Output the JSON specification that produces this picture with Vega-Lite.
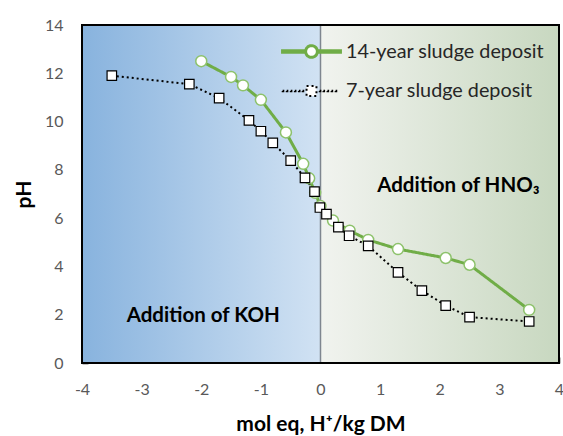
{
  "$schema": "https://vega.github.io/schema/vega-lite/v6.json",
  "width": 477,
  "height": 338,
  "autosize": {"type": "none"},
  "padding": {"left": 82, "top": 25, "right": 4, "bottom": 73},
  "background": "white",
  "config": {
    "view": {"stroke": null},
    "font": "Lato",
    "axis": {
      "labelFont": "Lato",
      "labelFontSize": 16,
      "labelColor": "#595959",
      "titleFont": "Lato",
      "titleFontSize": 21,
      "titleFontWeight": "bold",
      "titleColor": "#000000",
      "grid": false,
      "domain": false,
      "tickColor": "#000000",
      "tickWidth": 1.5,
      "tickSize": -6,
      "zindex": 1
    }
  },
  "data": {
    "values": [
      {"series": "14-year sludge deposit", "x": -2.0, "pH": 12.5},
      {"series": "14-year sludge deposit", "x": -1.5, "pH": 11.85},
      {"series": "14-year sludge deposit", "x": -1.3, "pH": 11.5},
      {"series": "14-year sludge deposit", "x": -1.0, "pH": 10.9},
      {"series": "14-year sludge deposit", "x": -0.58, "pH": 9.55},
      {"series": "14-year sludge deposit", "x": -0.29, "pH": 8.25},
      {"series": "14-year sludge deposit", "x": -0.19, "pH": 7.65},
      {"series": "14-year sludge deposit", "x": -0.09, "pH": 7.05},
      {"series": "14-year sludge deposit", "x": 0.0, "pH": 6.5},
      {"series": "14-year sludge deposit", "x": 0.21, "pH": 5.9},
      {"series": "14-year sludge deposit", "x": 0.49, "pH": 5.48},
      {"series": "14-year sludge deposit", "x": 0.8, "pH": 5.1},
      {"series": "14-year sludge deposit", "x": 1.3, "pH": 4.72},
      {"series": "14-year sludge deposit", "x": 2.1, "pH": 4.35},
      {"series": "14-year sludge deposit", "x": 2.5, "pH": 4.07},
      {"series": "14-year sludge deposit", "x": 3.5, "pH": 2.2},
      {"series": "7-year sludge deposit", "x": -3.5, "pH": 11.9},
      {"series": "7-year sludge deposit", "x": -2.2, "pH": 11.55},
      {"series": "7-year sludge deposit", "x": -1.7, "pH": 10.97},
      {"series": "7-year sludge deposit", "x": -1.2, "pH": 10.05},
      {"series": "7-year sludge deposit", "x": -1.0, "pH": 9.6},
      {"series": "7-year sludge deposit", "x": -0.8, "pH": 9.12},
      {"series": "7-year sludge deposit", "x": -0.5, "pH": 8.38},
      {"series": "7-year sludge deposit", "x": -0.26, "pH": 7.67},
      {"series": "7-year sludge deposit", "x": -0.1, "pH": 7.1},
      {"series": "7-year sludge deposit", "x": -0.01, "pH": 6.44},
      {"series": "7-year sludge deposit", "x": 0.1, "pH": 6.17},
      {"series": "7-year sludge deposit", "x": 0.3, "pH": 5.63},
      {"series": "7-year sludge deposit", "x": 0.48, "pH": 5.27},
      {"series": "7-year sludge deposit", "x": 0.8, "pH": 4.85},
      {"series": "7-year sludge deposit", "x": 1.3, "pH": 3.75},
      {"series": "7-year sludge deposit", "x": 1.7, "pH": 3.0},
      {"series": "7-year sludge deposit", "x": 2.1, "pH": 2.38},
      {"series": "7-year sludge deposit", "x": 2.5, "pH": 1.9},
      {"series": "7-year sludge deposit", "x": 3.5, "pH": 1.72}
    ]
  },
  "encoding": {
    "x": {
      "field": "x", "type": "quantitative",
      "scale": {"domain": [-4, 4], "nice": false, "zero": false},
      "axis": {"title": "mol eq, H⁺/kg DM", "values": [-4, -3, -2, -1, 0, 1, 2, 3, 4], "labelExpr": "'' + datum.value", "labelPadding": 24, "titlePadding": 16, "labelFlush": false}
    },
    "y": {
      "field": "pH", "type": "quantitative",
      "scale": {"domain": [0, 14], "nice": false},
      "axis": {"title": "pH", "values": [0, 2, 4, 6, 8, 10, 12, 14], "labelPadding": 25, "titlePadding": 10, "labelFlush": false}
    }
  },
  "layer": [
    {
      "transform": [{"filter": "datum.x === 3.5 && datum.pH === 1.72"}],
      "mark": {"type": "rect", "fill": {"gradient": "linear", "x1": 0, "x2": 1, "y1": 0, "y2": 0, "stops": [{"offset": 0, "color": "#88b3de"}, {"offset": 1, "color": "#d1e2f3"}]}},
      "encoding": {"x": {"datum": -4}, "x2": {"datum": 0}, "y": {"datum": 0}, "y2": {"datum": 14}}
    },
    {
      "transform": [{"filter": "datum.x === 3.5 && datum.pH === 1.72"}],
      "mark": {"type": "rect", "fill": {"gradient": "linear", "x1": 0, "x2": 1, "y1": 0, "y2": 0, "stops": [{"offset": 0, "color": "#f1f3ef"}, {"offset": 1, "color": "#c8d8c0"}]}},
      "encoding": {"x": {"datum": 0}, "x2": {"datum": 4}, "y": {"datum": 0}, "y2": {"datum": 14}}
    },
    {
      "transform": [{"filter": "datum.x === 3.5 && datum.pH === 1.72"}],
      "mark": {"type": "rule", "color": "#7f8690", "strokeWidth": 1.5},
      "encoding": {"x": {"datum": 0}, "y": {"datum": 0}, "y2": {"datum": 14}}
    },
    {
      "transform": [{"filter": "datum.x === 3.5 && datum.pH === 1.72"}],
      "mark": {"type": "rect", "fill": null, "stroke": "#000000", "strokeWidth": 2},
      "encoding": {"x": {"datum": -4}, "x2": {"datum": 4}, "y": {"datum": 0}, "y2": {"datum": 14}}
    },
    {
      "transform": [{"filter": "datum.x === 3.5 && datum.pH === 1.72"}],
      "mark": {"type": "text", "font": "Lato", "fontSize": 20.5, "fontWeight": "bold", "align": "left", "baseline": "middle", "color": "#000000"},
      "encoding": {"x": {"datum": -3.25}, "y": {"datum": 1.95}, "text": {"value": "Addition of KOH"}}
    },
    {
      "transform": [{"filter": "datum.x === 3.5 && datum.pH === 1.72"}],
      "mark": {"type": "text", "font": "Lato", "fontSize": 20.5, "fontWeight": "bold", "align": "left", "baseline": "middle", "color": "#000000"},
      "encoding": {"x": {"datum": 0.95}, "y": {"datum": 7.33}, "text": {"value": "Addition of HNO₃"}}
    },
    {
      "mark": {"type": "line", "strokeCap": "butt"},
      "encoding": {
        "stroke": {
          "field": "series", "type": "nominal",
          "scale": {"domain": ["14-year sludge deposit", "7-year sludge deposit"], "range": ["#70ad47", "#000000"]},
          "legend": {
            "title": null,
            "orient": "none",
            "legendX": 213,
            "legendY": 10,
            "padding": 0,
            "zindex": 2,
            "symbolSize": 900,
            "symbolStrokeWidth": 1.5,
            "labelFont": "Lato",
            "labelFontSize": 19.8,
            "labelLimit": 0,
            "labelColor": "#262626",
            "labelOffset": 18,
            "rowPadding": 11,
            "encode": {
              "symbols": {
                "update": {
                  "shape": {"signal": "datum.value === '14-year sludge deposit' ? 'M-1.93,-0.05L-0.39,-0.05L-0.39,0.05L-1.93,0.05Z M0.39,-0.05L1.93,-0.05L1.93,0.05L0.39,0.05Z M0.39,0A0.39,0.39 0 1,1 -0.39,0A0.39,0.39 0 1,1 0.39,0Z' : 'M-1.92,-0.02L-1.88,-0.02L-1.88,0.02L-1.92,0.02Z M-1.65,-0.02L-1.61,-0.02L-1.61,0.02L-1.65,0.02Z M-1.38,-0.02L-1.34,-0.02L-1.34,0.02L-1.38,0.02Z M-1.11,-0.02L-1.07,-0.02L-1.07,0.02L-1.11,0.02Z M-0.84,-0.02L-0.8,-0.02L-0.8,0.02L-0.84,0.02Z M-0.59,-0.02L-0.55,-0.02L-0.55,0.02L-0.59,0.02Z M0.55,-0.02L0.59,-0.02L0.59,0.02L0.55,0.02Z M0.8,-0.02L0.84,-0.02L0.84,0.02L0.8,0.02Z M1.07,-0.02L1.11,-0.02L1.11,0.02L1.07,0.02Z M1.34,-0.02L1.38,-0.02L1.38,0.02L1.34,0.02Z M1.61,-0.02L1.65,-0.02L1.65,0.02L1.61,0.02Z M-0.33,-0.33L0.33,-0.33L0.33,0.33L-0.33,0.33Z'"},
                  "fill": {"value": "#ffffff"},
                  "strokeDash": {"value": []},
                  "strokeWidth": {"value": 1.5},
                  "opacity": {"value": 1}
                }
              }
            }
          }
        },
        "strokeDash": {
          "field": "series", "type": "nominal",
          "scale": {"domain": ["14-year sludge deposit", "7-year sludge deposit"], "range": [[1, 0], [2, 3]]},
          "legend": null
        },
        "strokeWidth": {
          "field": "series", "type": "nominal",
          "scale": {"type": "ordinal", "domain": ["14-year sludge deposit", "7-year sludge deposit"], "range": [3, 2]},
          "legend": null
        }
      }
    },
    {
      "transform": [{"filter": "datum.series === '14-year sludge deposit'"}],
      "mark": {"type": "point", "shape": "circle", "filled": true, "fill": "#ffffff", "stroke": "#8dc26b", "strokeWidth": 1.5, "size": 120, "opacity": 1}
    },
    {
      "transform": [{"filter": "datum.series === '7-year sludge deposit'"}],
      "mark": {"type": "point", "shape": "square", "filled": true, "fill": "#ffffff", "stroke": "#000000", "strokeWidth": 1.2, "size": 90, "opacity": 1}
    }
  ]
}
